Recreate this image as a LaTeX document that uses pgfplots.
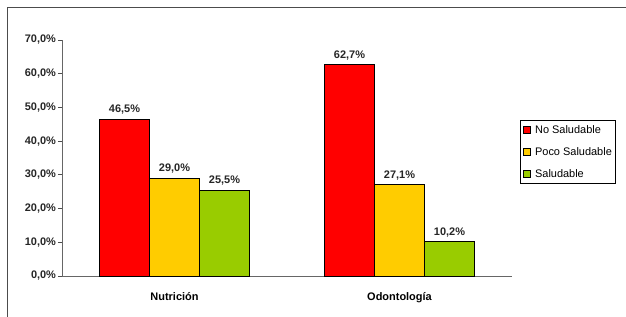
\documentclass[border=0pt]{standalone}
\usepackage{pgfplots}
\pgfplotsset{compat=1.18}
\usepackage{fontspec}
\setmainfont{Liberation Sans}
\definecolor{cred}{HTML}{FF0000}
\definecolor{cyel}{HTML}{FFCC00}
\definecolor{cgrn}{HTML}{99CC00}
\begin{document}
\begin{tikzpicture}
\useasboundingbox (0bp,0bp) rectangle (626bp,317bp);
\fill[white] (0bp,0bp) rectangle (626bp,317bp);
\draw[black!70, line width=1bp] (7bp,0bp) -- (7bp,309bp) -- (640bp,309bp);
\begin{axis}[
  at={(62bp,41bp)}, anchor=south west,
  scale only axis, width=450bp, height=236bp,
  ybar=0pt, bar width=50bp,
  xmin=-0.5, xmax=1.5, ymin=0, ymax=70,
  axis lines*=left,
  axis line style={black!60, line width=0.8bp},
  xtick={0,1}, xticklabels={Nutrici\'on, Odontolog\'ia},
  major x tick style={draw=none},
  extra x ticks={0.5,1.5}, extra x tick labels={},
  extra x tick style={major tick length=4bp, tick align=outside, tick style={black!70, line width=0.8bp}},
  xticklabel style={font=\fontsize{11}{13}\selectfont\bfseries, yshift=-9bp},
  ytick={0,10,...,70},
  yticklabels={{0,0\%},{10,0\%},{20,0\%},{30,0\%},{40,0\%},{50,0\%},{60,0\%},{70,0\%}},
  yticklabel style={font=\fontsize{11}{13}\selectfont\bfseries, xshift=1.5bp, text=black!85},
  tick align=outside, major tick length=4bp,
  y tick style={black!70, line width=0.8bp},
  nodes near coords, point meta=explicit symbolic,
  every node near coord/.append style={font=\fontsize{11}{13}\selectfont\bfseries, yshift=1bp, text=black!85},
  legend style={at={(1.018,0.661)}, anchor=north west, draw=black, line width=0.8bp,
    font=\fontsize{11}{13}\selectfont, row sep=8.5bp, column sep=3bp, inner xsep=2bp, inner ysep=3bp},
  legend cell align=left,
  legend image code/.code={\draw[#1, draw=black, line width=0.6bp] (0bp,-3.5bp) rectangle (7bp,3.5bp);},
  clip=false,
]
\addplot[fill=cred, draw=black, line width=0.6bp] coordinates {(0,46.5) [46,5\%] (1,62.7) [62,7\%]};
\addplot[fill=cyel, draw=black, line width=0.6bp] coordinates {(0,29.0) [29,0\%] (1,27.1) [27,1\%]};
\addplot[fill=cgrn, draw=black, line width=0.6bp] coordinates {(0,25.5) [25,5\%] (1,10.2) [10,2\%]};
\legend{No Saludable, Poco Saludable, Saludable}
\end{axis}
\end{tikzpicture}
\end{document}
